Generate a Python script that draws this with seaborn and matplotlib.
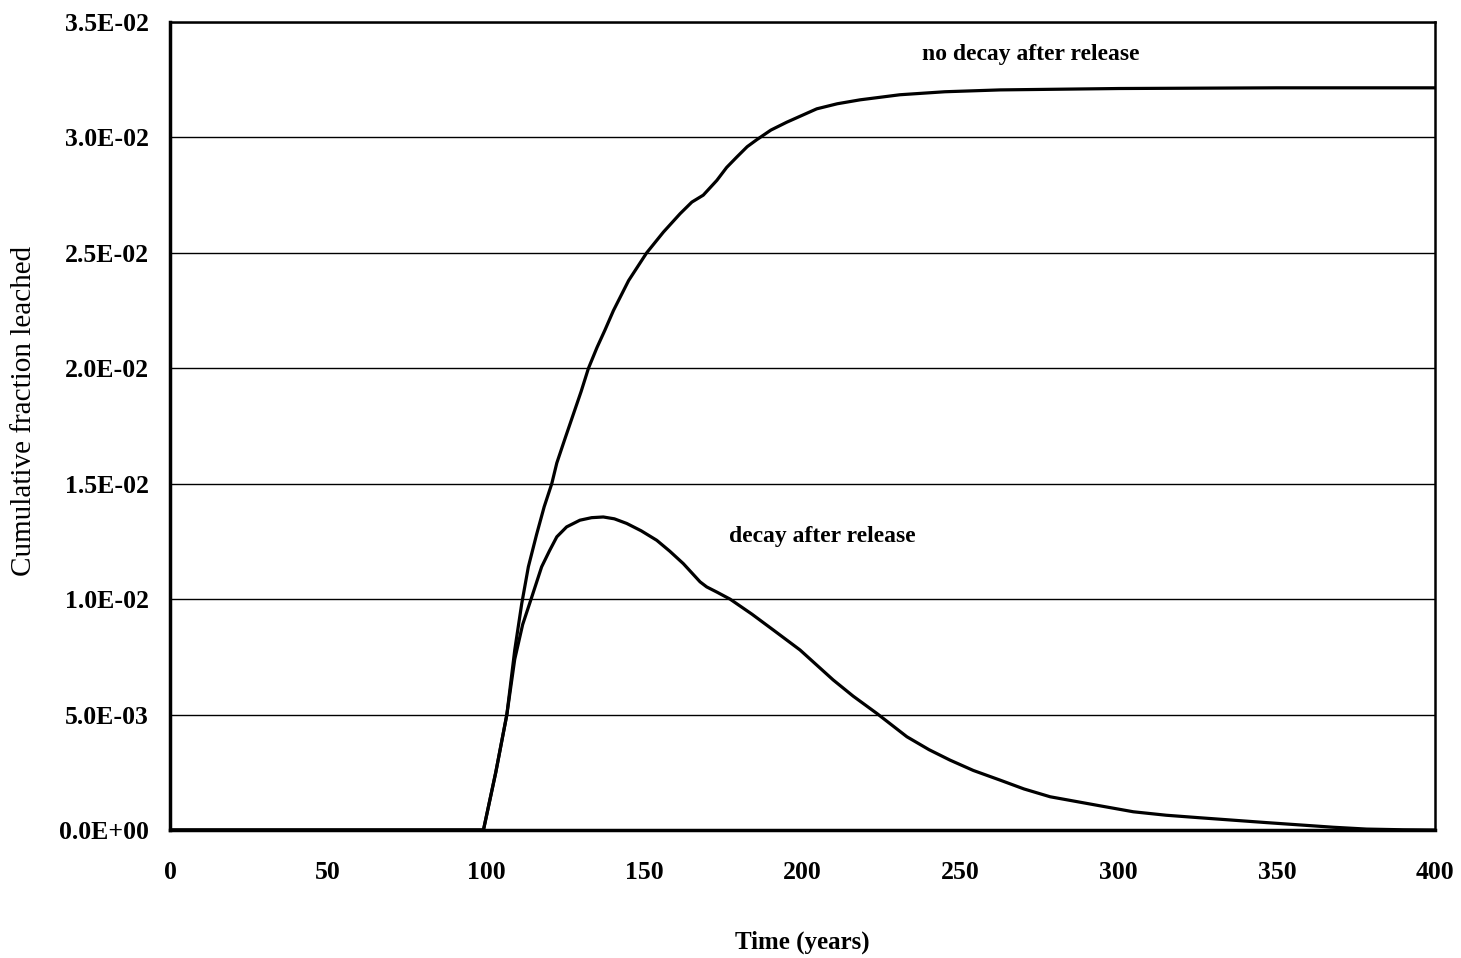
import matplotlib
matplotlib.use('Agg')
import matplotlib.pyplot as plt
import seaborn as sns
import pandas as pd
from matplotlib.ticker import FuncFormatter, MultipleLocator

# values
t_nodecay = [0, 95, 99.1, 103, 106.5, 109, 111.2, 113.3, 115.9, 118.3, 120.7, 122.3,
             125, 127.5, 130, 132.3, 135, 137.5, 140.2, 145, 150.7, 156, 161.3, 165,
             168.6, 172.9, 176, 179.2, 182.5, 185.5, 190, 195, 204.5, 211, 218.2,
             230.8, 245, 262.5, 300, 350, 400]
v_nodecay = [0, 0, 0, 0.0025, 0.005, 0.0078, 0.0098, 0.0114, 0.0128, 0.0140, 0.015, 0.0159,
             0.0170, 0.0180, 0.0190, 0.0200, 0.0209, 0.02165, 0.0225, 0.0238, 0.0250, 0.0259,
             0.0267, 0.0272, 0.0275, 0.02814, 0.0287, 0.02915, 0.0296, 0.0299, 0.03032,
             0.03066, 0.03124, 0.03146, 0.03163, 0.03185, 0.03198, 0.03206, 0.03212,
             0.03215, 0.03215]

t_decay = [0, 95, 99.1, 103, 106.5, 109, 111.5, 114.4, 117.5, 120, 122.3, 125.4, 129.6,
           133.3, 137, 140.5, 144.4, 149, 153.9, 158, 162.3, 167.6, 169.7, 173, 177.1,
           184, 190.8, 199.2, 209.7, 216, 223.5, 233, 240, 246.6, 254, 262.5, 270,
           278.3, 294, 304.6, 315, 325.7, 346.8, 367.8, 378.4, 390, 400]
v_decay = [0, 0, 0, 0.0025, 0.005, 0.0074, 0.0089, 0.0101, 0.0114, 0.0121, 0.0127, 0.01313,
           0.01342, 0.01353, 0.01356, 0.01348, 0.01328, 0.01296, 0.01255, 0.01208, 0.01154,
           0.01075, 0.01053, 0.01030, 0.0100, 0.00935, 0.00866, 0.0078, 0.0065, 0.0058,
           0.00505, 0.00404, 0.00348, 0.00303, 0.00258, 0.00216, 0.00178, 0.00144,
           0.00105, 0.00079, 0.00064, 0.00053, 0.00032, 0.00012, 0.00004, 0.00001, 0]

df = pd.concat([
    pd.DataFrame({'t': t_nodecay, 'v': v_nodecay, 'case': 'no decay after release'}),
    pd.DataFrame({'t': t_decay, 'v': v_decay, 'case': 'decay after release'}),
])

sns.set_theme(style="white")
plt.rcParams['font.family'] = ['Liberation Serif', 'DejaVu Serif']
plt.rcParams['text.color'] = 'black'
plt.rcParams['axes.labelcolor'] = 'black'
plt.rcParams['xtick.color'] = 'black'
plt.rcParams['ytick.color'] = 'black'

fig = plt.figure(figsize=(14.61, 9.58), dpi=100)
ax = fig.add_axes([0.1164, 0.1336, 0.8658, 0.8434])

sns.lineplot(data=df, x='t', y='v', units='case', estimator=None, color='black',
             linewidth=2.3, sort=False, ax=ax, legend=False)

ax.set_xlim(0, 400)
ax.set_ylim(0, 0.035)
ax.xaxis.set_major_locator(MultipleLocator(50))
ax.yaxis.set_major_locator(MultipleLocator(0.005))
ax.yaxis.set_major_formatter(FuncFormatter(lambda v, p: f"{v:.1E}"))

ax.grid(axis='y', color='black', linewidth=1.0)
ax.grid(axis='x', visible=False)
ax.set_axisbelow(True)

for side, lw in [('left', 2.5), ('bottom', 2.5), ('top', 1.8), ('right', 1.8)]:
    ax.spines[side].set_color('black')
    ax.spines[side].set_linewidth(lw)

ax.tick_params(axis='y', direction='out', length=6, width=1, labelsize=18.5, pad=9)
ax.tick_params(axis='x', direction='in', length=5, width=1, labelsize=18.5, pad=22)
for lab in ax.get_xticklabels() + ax.get_yticklabels():
    lab.set_fontweight('bold')

ax.set_xlabel('Time (years)', fontsize=18, fontweight='bold', labelpad=34)
ax.set_ylabel('Cumulative fraction leached', fontsize=21)
ax.yaxis.set_label_coords(-0.105, 0.519)

ax.text(272.3, 0.0336, 'no decay after release', fontsize=17, fontweight='bold',
        ha='center', va='center')
ax.text(206.2, 0.0127, 'decay after release', fontsize=17, fontweight='bold',
        ha='center', va='center')

fig.savefig('out.png', dpi=100)
